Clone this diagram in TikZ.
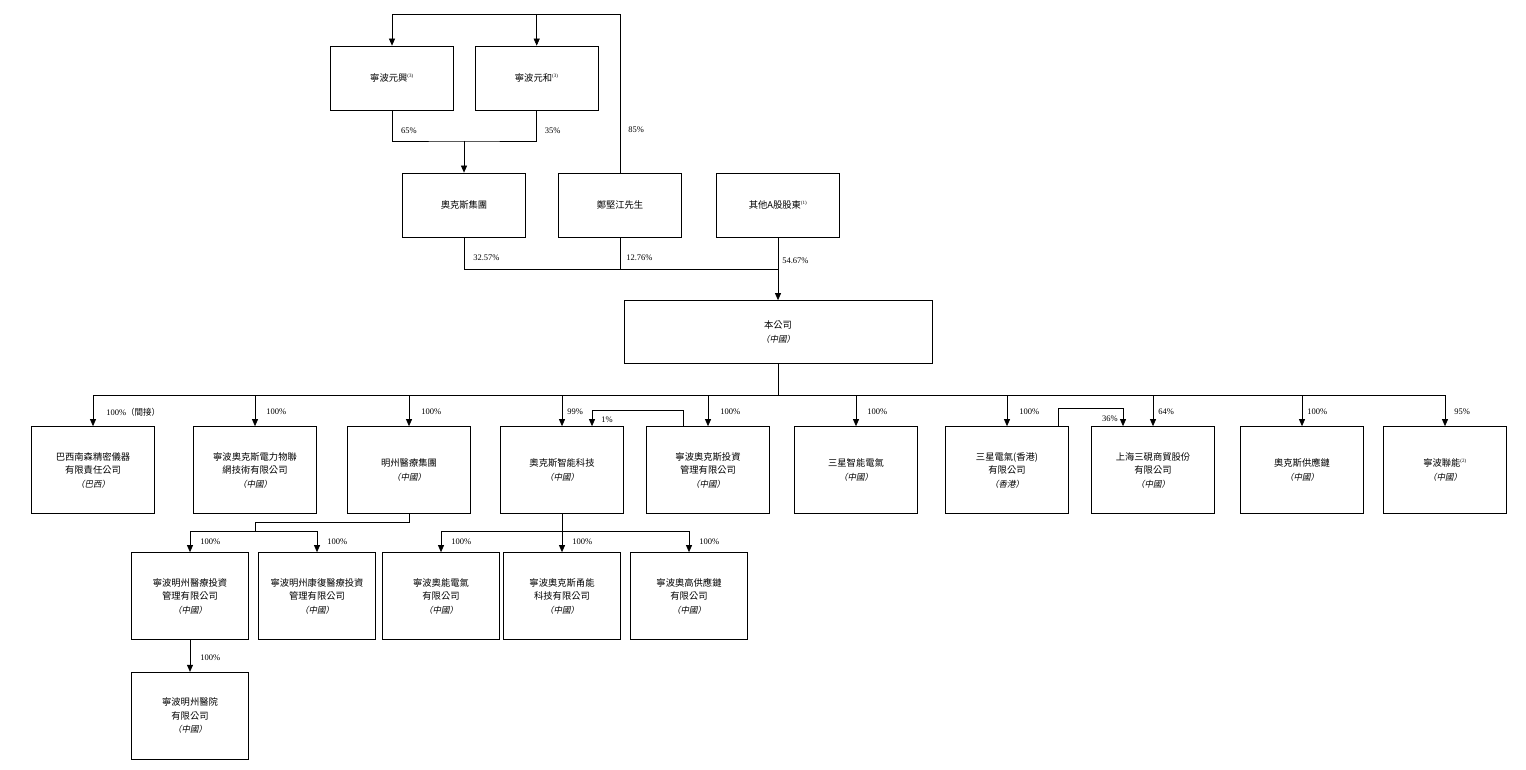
\documentclass[tikz,border=0pt]{standalone}
\usepackage{fontspec}
\setmainfont{Liberation Serif}
\newfontfamily\cjk{Noto Sans CJK TC}
\newfontfamily\cjkit{Noto Sans CJK TC}[FakeSlant=0.2]
\usetikzlibrary{arrows.meta,positioning,calc}
\newcommand{\regn}[1]{{\cjkit\fontsize{8.5}{13}\selectfont （#1）}}
\newcommand{\fnmark}[1]{\textsuperscript{\rmfamily\fontsize{5}{5}\selectfont(#1)}}
\tikzset{
  org/.style={draw,line width=0.7pt,minimum width=123pt,minimum height=87pt,
              inner sep=2pt,align=center,font=\cjk\fontsize{9.3}{13.5}\selectfont},
  holder/.style={org,minimum height=64pt},
  sub/.style={org,minimum width=117pt},
  ln/.style={line width=0.7pt},
  own/.style={ln,-{Triangle[length=7pt,width=6pt]}},
  pct/.style={font=\fontsize{8.5}{10}\selectfont,inner sep=0pt,anchor=west,xshift=#1},
  pct/.default=10pt}

\begin{document}
\begin{tikzpicture}[x=1pt,y=-1pt]
  \useasboundingbox (0,0) rectangle (1526,770);
  \node[holder] (yx) at (392,78) {寧波元興\fnmark{3}};
  \node[holder] (yh) [right=21pt of yx] {寧波元和\fnmark{3}};
  \node[holder] (grp) at (464,205) {奧克斯集團};
  \node[holder] (zheng) at (620,205) {鄭堅江先生};
  \node[holder] (other) at (778,205) {其他A股股東\fnmark{1}};
  \node[org,minimum width=308pt,minimum height=63pt] (co) at (778,332) {本公司\\\regn{中國}};

  \node[org] (bra) at (93,470) {巴西南森精密儀器\\有限責任公司\\\regn{巴西}};
  \node[org] (iot) at (255,470) {寧波奧克斯電力物聯\\網技術有限公司\\\regn{中國}};
  \node[org] (med) at (409,470) {明州醫療集團\\\regn{中國}};
  \node[org] (smart) at (562,470) {奧克斯智能科技\\\regn{中國}};
  \node[org] (inv) at (708,470) {寧波奧克斯投資\\管理有限公司\\\regn{中國}};
  \node[org] (sxe) at (856,470) {三星智能電氣\\\regn{中國}};
  \node[org] (sxhk) at (1007,470) {三星電氣(香港)\\有限公司\\\regn{香港}};
  \node[org] (shsy) at (1153,470) {上海三硯商貿股份\\有限公司\\\regn{中國}};
  \node[org] (supc) at (1302,470) {奧克斯供應鏈\\\regn{中國}};
  \node[org] (lian) at (1445,470) {寧波聯能\fnmark{2}\\\regn{中國}};

  \node[sub] (mzi) at (190,596) {寧波明州醫療投資\\管理有限公司\\\regn{中國}};
  \node[sub] (mzk) at (317,596) {寧波明州康復醫療投資\\管理有限公司\\\regn{中國}};
  \node[sub] (aon) at (441,596) {寧波奧能電氣\\有限公司\\\regn{中國}};
  \node[sub] (yong) at (562,596) {寧波奧克斯甬能\\科技有限公司\\\regn{中國}};
  \node[sub] (agy) at (689,596) {寧波奧高供應鏈\\有限公司\\\regn{中國}};
  \node[sub] (hosp) [below=32pt of mzi] {寧波明州醫院\\有限公司\\\regn{中國}};

  \coordinate (ctop) at (620,14);
  \coordinate (m1) at (464,141);
  \coordinate (m2) at (778,269);
  \coordinate (bus) at (778,395);
  \coordinate (m3) at (255,522);
  \coordinate (bus2) at (255,531);
  \coordinate (bus3) at (562,531);

  \draw[own] (zheng.north) -- node[pct=0pt,pos=0.27,xshift=8pt] {85\%} (ctop) -| (yx.north);
  \draw[own] (yh.north |- ctop) -- (yh.north);
  \draw[ln] (yx.south) |- (m1) -| (yh.south);
  \path (yx.south) -- node[pct=9pt,pos=0.65] {65\%} (yx.south |- m1);
  \path (yh.south) -- node[pct=8pt,pos=0.65] {35\%} (yh.south |- m1);
  \draw[own] (m1) -- (grp.north);

  \draw[ln] (grp.south) -- node[pct=9pt,pos=0.65] {32.57\%} (grp.south |- m2) -- (m2);
  \draw[ln] (zheng.south) -- node[pct=6pt,pos=0.65] {12.76\%} (zheng.south |- m2);
  \draw[own] (other.south) -- node[pct=4pt,pos=0.375] {54.67\%} (co.north);

  \draw[ln] (co.south) -- (bus);
  \draw[ln] (bra.north |- bus) -- (lian.north |- bus);
  \foreach \n/\p/\d in {bra/{100\%{\cjk（間接）}}/13pt,iot/100\%/11pt,med/100\%/12pt,
                        smart/99\%/5pt,inv/100\%/12pt,sxe/100\%/11pt,sxhk/100\%/12pt,
                        shsy/64\%/5pt,supc/100\%/5pt,lian/95\%/9pt}
    \draw[own] (\n.north |- bus) -- node[pct=\d,pos=0.55] {\p} (\n.north);
  \draw[own] ([xshift=-25pt]inv.north) -- ++(0,-16) -| node[pct=9pt,pos=0.8] {1\%} ([xshift=30pt]smart.north);
  \draw[own] ([xshift=51pt]sxhk.north) -- ++(0,-18) -| node[pct=-5pt,anchor=east,pos=0.8] {36\%} ([xshift=-30pt]shsy.north);

  \draw[ln] (med.south) |- (m3) -- (bus2);
  \draw[ln] (mzi.north |- bus2) -- (mzk.north |- bus2);
  \draw[ln] (smart.south) -- (bus3);
  \draw[ln] (aon.north |- bus3) -- (agy.north |- bus3);
  \foreach \n in {mzi,mzk,aon,yong,agy}
    \draw[own] (\n.north |- bus2) -- node[pct,pos=0.5] {100\%} (\n.north);
  \draw[own] (mzi.south) -- node[pct,pos=0.55] {100\%} (hosp.north);
\end{tikzpicture}
\end{document}
